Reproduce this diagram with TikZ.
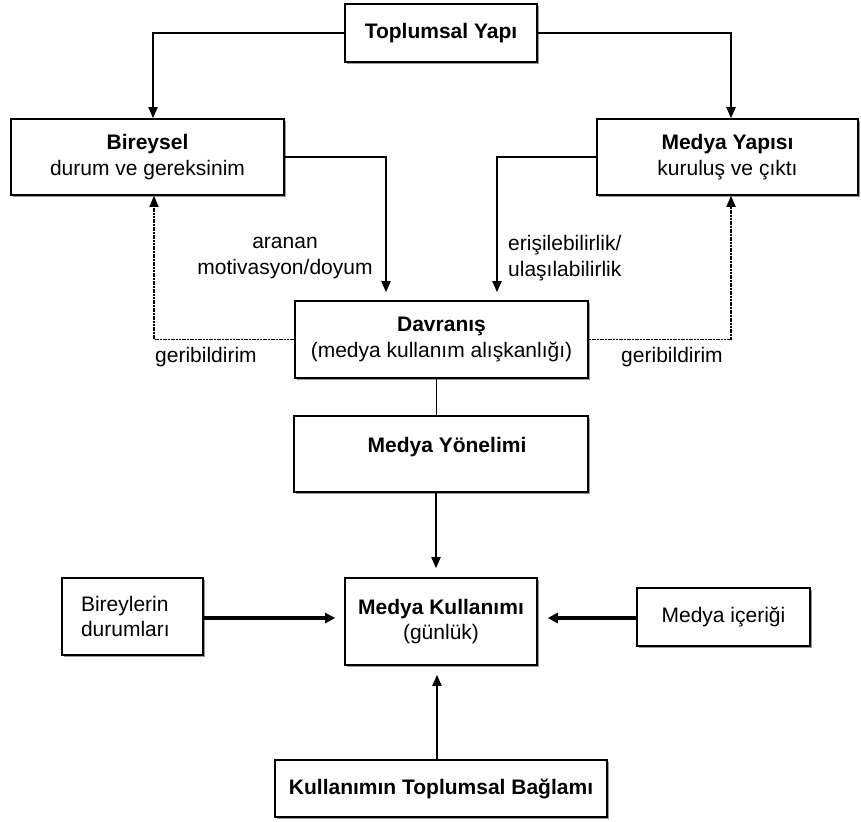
\documentclass[tikz,border=0pt]{standalone}
\usepackage{fontspec}
\setmainfont{Liberation Sans}
\usetikzlibrary{arrows.meta,shadows}
\begin{document}
\begin{tikzpicture}[x=1pt,y=-1pt,
  txt/.style={font=\fontsize{21}{25.5}\selectfont, inner sep=0pt},
  box/.style={txt, draw, line width=1.6pt, fill=white, rectangle, align=center,
    drop shadow={shadow xshift=1.6pt, shadow yshift=-1.6pt, fill=black!40, opacity=1}},
  conn/.style={line width=1.8pt, -{Triangle[length=11pt,width=9pt]}},
  thick conn/.style={line width=3.2pt, -{Triangle[length=10pt,width=10pt]}},
  feedback/.style={line width=1.7pt, dash pattern=on 2pt off 0.7pt, -{Triangle[length=11pt,width=9pt]}},
  plain/.style={line width=1pt}
]
\useasboundingbox (0,0) rectangle (861,821);

% boxes
\node[box, minimum width=192pt, minimum height=58pt] (top) at (441,33) {\textbf{Toplumsal Yapı}};
\node[box, minimum width=273pt, minimum height=76pt] (biry) at (147.5,157) {\textbf{Bireysel}\\durum ve gereksinim};
\node[box, minimum width=261pt, minimum height=76pt] (myap) at (727.5,157) {\textbf{Medya Yapısı}\\kuruluş ve çıktı};
\node[box, minimum width=293pt, minimum height=77pt] (dav) at (441.5,339.5) {\textbf{Davranış}\\(medya kullanım alışkanlığı)};
\node[box, minimum width=294pt, minimum height=76pt] (yon) at (441,454) {};
\node[txt] (yontxt) at (447,447) {\textbf{Medya Yönelimi}};
\node[box, minimum width=192pt, minimum height=87pt] (kul) at (441,621.5) {\textbf{Medya Kullanımı}\\(günlük)};
\node[box, text width=103pt, inner xsep=19pt, align=left, minimum height=77pt] (bir) at (132.5,616.5) {Bireylerin\\durumları};
\node[box, minimum width=173pt, minimum height=58pt] (ice) at (723.5,617) {Medya içeriği};
\node[box, minimum width=332pt, minimum height=57pt] (bag) at (441,788.5) {\textbf{Kullanımın Toplumsal Bağlamı}};

% labels on connectors
\node[txt, align=center] (lmot) at (285,258) {aranan\\motivasyon/doyum};
\node[txt, align=left, anchor=west] (lacc) at (508,258) {erişilebilirlik/\\ulaşılabilirlik};
\node[txt] (lfbl) at (206,357) {geribildirim};
\node[txt] (lfbr) at (672,357) {geribildirim};

% connectors
\draw[conn] (top.west) -| ([xshift=5.5pt]biry.north);
\draw[conn] (top.east) -| ([xshift=3.5pt]myap.north);
\draw[conn, shorten >=8pt] (biry.east) -| ([xshift=-55.5pt]dav.north);
\draw[conn, shorten >=8pt] (myap.west) -| ([xshift=55.5pt]dav.north);
\draw[feedback] (dav.west) -| ([xshift=6.5pt]biry.south);
\draw[feedback] (dav.east) -| ([xshift=3.5pt]myap.south);
\draw[plain] ([xshift=-5.5pt]dav.south) -- ([xshift=-5pt]yon.north);
\draw[conn, shorten >=9pt] ([xshift=-5pt]yon.south) -- ([xshift=-5pt]kul.north);
\draw[thick conn, shorten >=9pt] ([yshift=-1.5pt]bir.east) -- ([yshift=-1.5pt]bir.east -| kul.west);
\draw[thick conn, shorten >=10pt] ([yshift=-1pt]ice.west) -- ([yshift=-1pt]ice.west -| kul.east);
\draw[conn, shorten >=9pt] ([xshift=-4pt]bag.north) -- ([xshift=-4pt]kul.south);
\end{tikzpicture}
\end{document}
